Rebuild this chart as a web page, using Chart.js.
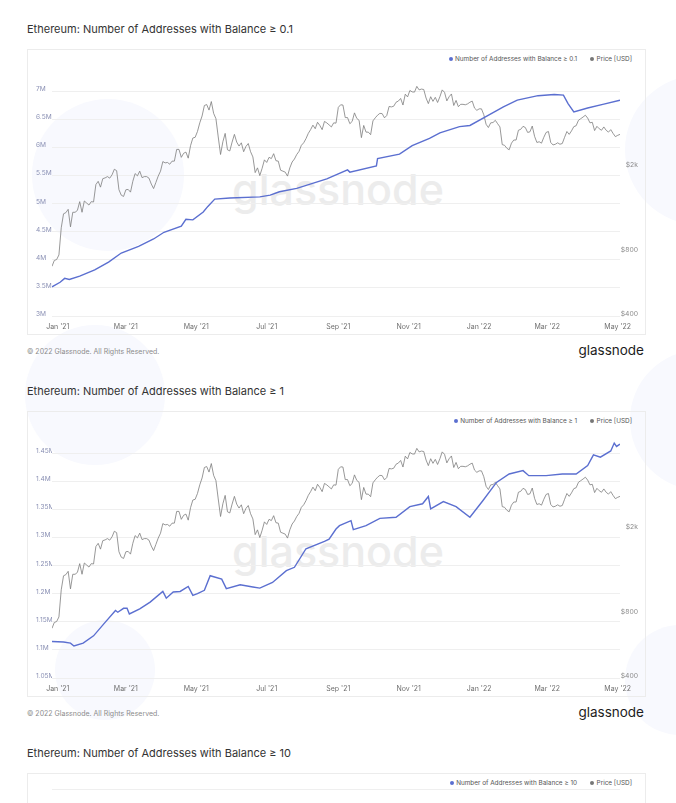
<!DOCTYPE html>
<html>
<head>
<meta charset="utf-8">
<script src="https://cdn.jsdelivr.net/npm/chart.js@4.4.1/dist/chart.umd.min.js"></script>
<style>
  html, body { margin: 0; padding: 0; width: 676px; height: 803px; overflow: hidden; background: #fff; font-family: Inter, 'Noto Sans', sans-serif; }
  .blob { position: absolute; border-radius: 50%; background: #f8f9fe; }
  .sec { position: absolute; left: 0; width: 676px; height: 362px; }
  .title { position: absolute; left: 27px; top: 22px; font-size: 11px; line-height: 14px; color: #333; white-space: nowrap; }
  .box { position: absolute; left: 27px; top: 49px; width: 617px; height: 284px; border: 1px solid #ececec; }
  .wm { position: absolute; left: 204px; top: 118px; font-size: 43px; line-height: 43px; font-weight: 500; color: #ececec; white-space: nowrap; }
  .legend { position: absolute; right: 13px; top: 5px; font-size: 6.4px; line-height: 8px; color: #555; white-space: nowrap; }
  .dot { display: inline-block; width: 4px; height: 4px; border-radius: 50%; margin-right: 2.5px; vertical-align: 0.2px; }
  .gap { margin-left: 13px; }
  .wrap { position: absolute; left: 0; top: 0; width: 617px; height: 284px; }
  .copy { position: absolute; left: 27px; top: 347px; font-size: 7px; line-height: 9px; color: #8c8c8c; white-space: nowrap; }
  .logo { position: absolute; right: 32px; top: 343px; font-size: 13.5px; line-height: 14px; font-weight: 400; color: #1d1d1d; }
</style>
</head>
<body>
<div class="blob" style="left:32px;top:99px;width:152px;height:152px"></div>
<div class="blob" style="left:625px;top:75px;width:150px;height:150px"></div>
<div class="blob" style="left:25px;top:325px;width:140px;height:140px"></div>
<div class="blob" style="left:630px;top:350px;width:140px;height:140px"></div>
<div class="blob" style="left:55px;top:620px;width:100px;height:100px"></div>
<div class="blob" style="left:625px;top:625px;width:110px;height:110px"></div>

<div class="sec" style="top:0">
  <div class="title">Ethereum: Number of Addresses with Balance ≥ 0.1</div>
  <div class="box">
    <div class="wm">glassnode</div>
    <div class="legend"><span class="dot" style="background:#5b6fd0"></span>Number of Addresses with Balance ≥ 0.1<span class="dot gap" style="background:#777"></span>Price [USD]</div>
    <div class="wrap"><canvas id="c1"></canvas></div>
  </div>
  <div class="copy">© 2022 Glassnode. All Rights Reserved.</div>
  <div class="logo">glassnode</div>
</div>

<div class="sec" style="top:362px">
  <div class="title">Ethereum: Number of Addresses with Balance ≥ 1</div>
  <div class="box">
    <div class="wm">glassnode</div>
    <div class="legend"><span class="dot" style="background:#5b6fd0"></span>Number of Addresses with Balance ≥ 1<span class="dot gap" style="background:#777"></span>Price [USD]</div>
    <div class="wrap"><canvas id="c2"></canvas></div>
  </div>
  <div class="copy">© 2022 Glassnode. All Rights Reserved.</div>
  <div class="logo">glassnode</div>
</div>

<div class="sec" style="top:724px">
  <div class="title">Ethereum: Number of Addresses with Balance ≥ 10</div>
  <div class="box">
    <div class="wm">glassnode</div>
    <div class="legend"><span class="dot" style="background:#5b6fd0"></span>Number of Addresses with Balance ≥ 10<span class="dot gap" style="background:#777"></span>Price [USD]</div>
    <div class="wrap"><canvas id="c3"></canvas></div>
  </div>
</div>

<script>
// x axis month ticks
const monthTickDates = ['2021-01-01', '2021-03-01', '2021-05-01', '2021-07-01', '2021-09-01', '2021-11-01', '2022-01-01', '2022-03-01', '2022-05-01'];
const monthLabels = ["Jan '21", "Mar '21", "May '21", "Jul '21", "Sep '21", "Nov '21", "Jan '22", "Mar '22", "May '22"];

// ETH price [USD], one value every 2 days starting 2020-12-27
const priceStart = '2020-12-27';
const priceStepDays = 2;
const price2020 = [685, 730, 737];
const price2021 = [
  775, 1040, 1210, 1225, 1270, 1050, 1230, 1230, 1255, 1380, 1230, 1390, 1360, 1330, 1380,
  1375, 1660, 1720, 1615, 1770, 1785, 1810, 1780, 1845, 1960, 1930, 1570, 1480, 1460,
  1570, 1575, 1530, 1720, 1870, 1825, 1920, 1790, 1810, 1810, 1780, 1670, 1590, 1700, 1820, 1920,
  2130, 2100, 2110, 2070, 2140, 2140, 2430, 2430, 2230, 2330, 2360, 2210, 2530, 2750, 2770,
  2950, 3240, 3490, 3910, 3950, 3720, 4080, 3590, 3390, 2780, 2300, 2640, 2890, 2420, 2390,
  2630, 2860, 2630, 2520, 2610, 2370, 2510, 2590, 2370, 2240, 1890, 1990, 1830, 1980, 2170,
  2110, 2230, 2200, 2320, 2150, 2140, 1940, 1920, 1900, 1820, 1990, 2120, 2190, 2300, 2380, 2540,
  2610, 2730, 2890, 3010, 3160, 3040, 3260, 3150, 3010, 3290, 3240, 3170, 3100, 3240, 3230,
  3830, 3940, 3930, 3430, 3430, 3210, 3290, 3610, 3400, 3330, 2760, 3150, 2930, 2930, 2850,
  3310, 3420, 3520, 3590, 3580, 3420, 3510, 3870, 3850, 3880, 4050, 4100, 4220, 3930, 4420, 4290,
  4600, 4530, 4520, 4810, 4630, 4670, 4650, 4240, 3990, 4300, 4090, 4270, 4040, 4300, 4630,
  4510, 4110, 4300, 4430, 3910, 4130, 3860, 3960, 3960, 3940, 3980, 4050, 4100, 3800, 3710
];
const price2022 = [
  3770, 3770, 3540, 3190, 3080, 3240, 3250, 3330, 3210, 3100, 2560, 2540, 2460, 2420, 2600, 2690,
  2690, 2990, 3020, 3120, 3080, 2920, 2940, 3130, 2800, 2620, 2640, 2600, 2770, 2920,
  2950, 2620, 2550, 2570, 2610, 2570, 2590, 2770, 2950, 2860, 2970, 3110, 3140, 3330, 3390,
  3450, 3520, 3410, 3240, 3260, 2980, 3120, 3040, 2990, 3100, 2990, 2930, 3010, 2890, 2790,
  2830, 2860
];
const priceTicks = [400, 800, 2000];
const priceTickLabels = ['$400', '$800', '$2k'];

// Addresses with balance >= 0.1 ETH (millions)
const addr01Dates = [
  '2020-12-27', '2021-01-03', '2021-01-07', '2021-01-11', '2021-01-20', '2021-02-02', '2021-02-14', '2021-02-25',
  '2021-03-12', '2021-03-25', '2021-04-03', '2021-04-18', '2021-04-22', '2021-04-28', '2021-05-07', '2021-05-11',
  '2021-05-17', '2021-05-30', '2021-06-25', '2021-07-04', '2021-07-12', '2021-07-27', '2021-08-22', '2021-09-09',
  '2021-09-11', '2021-10-04', '2021-10-05', '2021-10-24', '2021-11-04', '2021-11-19', '2021-11-28', '2021-12-15',
  '2021-12-24', '2022-01-08', '2022-01-22', '2022-02-03', '2022-02-21', '2022-03-07', '2022-03-15', '2022-03-19',
  '2022-03-24', '2022-04-05', '2022-04-19', '2022-05-03'
];
const addr01Values = [
  3.52, 3.60, 3.67, 3.65, 3.71, 3.82, 3.96, 4.12,
  4.24, 4.37, 4.49, 4.60, 4.72, 4.71, 4.85, 4.95,
  5.08, 5.10, 5.12, 5.15, 5.21, 5.27, 5.44, 5.60,
  5.56, 5.67, 5.80, 5.88, 6.03, 6.16, 6.26, 6.37,
  6.39, 6.56, 6.72, 6.84, 6.92, 6.94, 6.93, 6.78,
  6.63, 6.70, 6.77, 6.84
];
const addr01Ticks = [3, 3.5, 4, 4.5, 5, 5.5, 6, 6.5, 7];

// Addresses with balance >= 1 ETH (millions)
const addr1Dates = [
  '2020-12-27', '2021-01-06', '2021-01-12', '2021-01-15', '2021-01-23', '2021-02-01', '2021-02-11', '2021-02-20',
  '2021-02-22', '2021-02-27', '2021-03-02', '2021-03-04', '2021-03-13', '2021-03-22', '2021-04-02', '2021-04-05',
  '2021-04-11', '2021-04-17', '2021-04-24', '2021-04-28', '2021-05-02', '2021-05-08', '2021-05-13', '2021-05-23',
  '2021-05-27', '2021-06-08', '2021-06-19', '2021-06-25', '2021-07-06', '2021-07-18', '2021-07-25', '2021-08-04',
  '2021-08-20', '2021-08-24', '2021-08-30', '2021-09-02', '2021-09-12', '2021-09-14', '2021-09-25', '2021-10-07',
  '2021-10-21', '2021-11-02', '2021-11-13', '2021-11-18', '2021-11-20', '2021-12-01', '2021-12-12', '2021-12-24',
  '2022-01-04', '2022-01-16', '2022-01-27', '2022-02-08', '2022-02-13', '2022-02-28', '2022-03-14', '2022-03-26',
  '2022-04-05', '2022-04-10', '2022-04-16', '2022-04-25', '2022-04-28', '2022-04-30', '2022-05-03'
];
const addr1Values = [
  1.115, 1.114, 1.112, 1.107, 1.112, 1.125, 1.149, 1.170,
  1.167, 1.174, 1.174, 1.164, 1.173, 1.185, 1.204, 1.192,
  1.203, 1.204, 1.213, 1.197, 1.200, 1.206, 1.232, 1.226,
  1.209, 1.216, 1.212, 1.210, 1.220, 1.241, 1.247, 1.280,
  1.293, 1.297, 1.315, 1.321, 1.330, 1.314, 1.321, 1.334,
  1.336, 1.355, 1.360, 1.373, 1.351, 1.364, 1.355, 1.336,
  1.365, 1.398, 1.413, 1.419, 1.410, 1.410, 1.413, 1.413,
  1.428, 1.447, 1.443, 1.454, 1.468, 1.462, 1.466
];
const addr1Ticks = [1.05, 1.1, 1.15, 1.2, 1.25, 1.3, 1.35, 1.4, 1.45];

const DAY = 864e5;
const origin = Date.parse('2021-01-01');
const toDay = d => (Date.parse(d) - origin) / DAY;

const priceValues = price2020.concat(price2021, price2022);
const priceStartDay = toDay(priceStart);
const pricePoints = priceValues.map((v, i) => ({ x: priceStartDay + i * priceStepDays, y: v }));
const monthTickDays = monthTickDates.map(toDay);

Chart.defaults.font.family = 'Inter, "Noto Sans", sans-serif';
Chart.defaults.animation = false;

function fmtM(v) {
  return (Math.round(v / 1e4) / 100) + 'M';
}

function makeChart(id, label, dates, values, leftTicks, leftMin, leftMax) {
  const addrPoints = dates.map((d, i) => ({ x: toDay(d), y: values[i] * 1e6 }));
  const ticksM = leftTicks.map(v => v * 1e6);
  return new Chart(document.getElementById(id), {
    type: 'line',
    data: {
      datasets: [{
        label: label,
        data: addrPoints,
        yAxisID: 'y',
        borderColor: '#5b6fd0',
        borderWidth: 1.4,
        pointRadius: 0,
        tension: 0,
      }, {
        label: 'Price [USD]',
        data: pricePoints,
        yAxisID: 'y1',
        borderColor: '#7d7d7d',
        borderWidth: 0.8,
        pointRadius: 0,
        tension: 0,
      }]
    },
    options: {
      responsive: true,
      maintainAspectRatio: false,
      events: [],
      layout: { padding: { left: 8, right: 7, top: 15, bottom: 0 } },
      plugins: { legend: { display: false }, tooltip: { enabled: false } },
      scales: {
        x: {
          type: 'linear',
          min: -5,
          max: 487,
          grid: { display: false, drawTicks: false },
          border: { display: false },
          afterBuildTicks: s => { s.ticks = monthTickDays.map(v => ({ value: v })); },
          afterFit: s => { s.height = 18; },
          ticks: {
            padding: 7, maxRotation: 0, autoSkip: false, color: '#707070', font: { size: 7 },
            callback: (v, i) => monthLabels[i]
          }
        },
        y: {
          position: 'left',
          min: leftMin * 1e6,
          max: leftMax * 1e6,
          grid: { color: '#efefef', drawTicks: false },
          border: { display: false },
          afterBuildTicks: s => { s.ticks = ticksM.map(v => ({ value: v })); },
          afterFit: s => { s.width = 16; },
          ticks: {
            crossAlign: 'far', labelOffset: -2, color: '#8a90b4', font: { size: 6.6 },
            callback: v => ticksM.length ? fmtM(v) : ''
          }
        },
        y1: {
          type: 'logarithmic',
          position: 'right',
          min: 400,
          max: 6062,
          grid: { display: false },
          border: { display: false },
          afterBuildTicks: s => { s.ticks = priceTicks.map(v => ({ value: v })); },
          afterFit: s => { s.width = 18; },
          ticks: {
            crossAlign: 'far', labelOffset: -2, color: '#8c8c8c', font: { size: 6.8 },
            callback: (v, i) => priceTickLabels[i]
          }
        }
      }
    }
  });
}

makeChart('c1', 'Number of Addresses with Balance ≥ 0.1', addr01Dates, addr01Values, addr01Ticks, 3, 7.466);
makeChart('c2', 'Number of Addresses with Balance ≥ 1', addr1Dates, addr1Values, addr1Ticks, 1.05, 1.4966);

// third panel: only its top edge is inside the page
const c3 = makeChart('c3', 'Number of Addresses with Balance ≥ 10', [], [], [], 0, 1);
c3.options.scales.y.afterBuildTicks = s => { s.ticks = [{ value: s.max }]; };
c3.options.scales.y.ticks.callback = () => '';
c3.update();
</script>
</body>
</html>
